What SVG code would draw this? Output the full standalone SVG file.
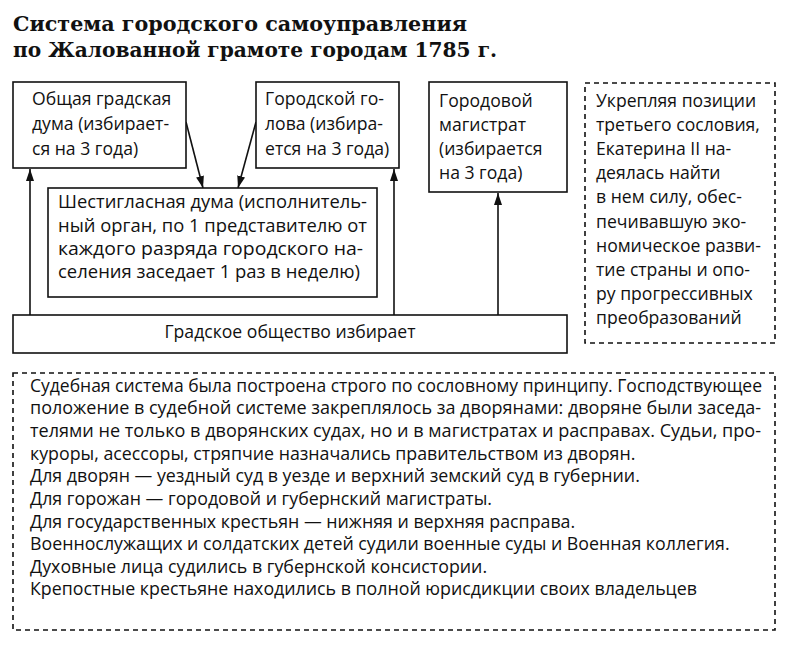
<svg xmlns="http://www.w3.org/2000/svg" width="807" height="648" viewBox="0 0 807 648">
<defs>
<style>
.box{fill:#fff;stroke:#111;stroke-width:1.6}
.dash{fill:#fff;stroke:#111;stroke-width:1.6;stroke-dasharray:5 4}
.t{font-family:"Open Sans","Noto Sans","DejaVu Sans",sans-serif;font-size:17.6px;fill:#111}
.b{font-size:17.8px}
.title{font-family:"DejaVu Serif","Liberation Serif",serif;font-weight:bold;font-size:21px;fill:#111}
.conn{stroke:#111;stroke-width:1.6;fill:none;marker-end:url(#ah)}
</style>
<marker id="ah" viewBox="0 0 12 8" refX="12" refY="4" markerWidth="12" markerHeight="8" markerUnits="userSpaceOnUse" orient="auto">
<path d="M0,0 L12,4 L0,8 Z" fill="#111"/>
</marker>
</defs>
<rect width="807" height="648" fill="#fff"/>
<g id="title">
<text class="title" x="13" y="31" textLength="454" lengthAdjust="spacingAndGlyphs">Система городского самоуправления</text>
<text class="title" x="13" y="57" textLength="484" lengthAdjust="spacingAndGlyphs">по Жалованной грамоте городам 1785 г.</text>
</g>
<g id="connectors">
<line class="conn" x1="30" y1="315" x2="30" y2="169"/>
<line class="conn" x1="394" y1="315" x2="394" y2="169"/>
<line class="conn" x1="498" y1="315" x2="498" y2="193"/>
<line class="conn" x1="186" y1="122" x2="203" y2="188"/>
<line class="conn" x1="256" y1="122" x2="238" y2="188"/>
</g>
<g id="duma">
<rect class="box" x="13" y="82" width="173" height="86"/>
<text class="t" x="32" y="105">Общая градская</text>
<text class="t" x="32" y="130">дума (избирает-</text>
<text class="t" x="32" y="155">ся на 3 года)</text>
</g>
<g id="golova">
<rect class="box" x="256" y="82" width="143" height="86"/>
<text class="t" x="265" y="105">Городской го-</text>
<text class="t" x="265" y="130">лова (избира-</text>
<text class="t" x="265" y="155">ется на 3 года)</text>
</g>
<g id="magistrat">
<rect class="box" x="429" y="82" width="138" height="110"/>
<text class="t" x="439" y="107">Городовой</text>
<text class="t" x="439" y="131">магистрат</text>
<text class="t" x="439" y="155">(избирается</text>
<text class="t" x="439" y="179">на 3 года)</text>
</g>
<g id="shestiglasnaya">
<rect class="box" x="48" y="188" width="329" height="109"/>
<text class="t" x="58" y="208" textLength="309" lengthAdjust="spacingAndGlyphs">Шестигласная дума (исполнитель-</text>
<text class="t" x="58" y="232" textLength="309" lengthAdjust="spacingAndGlyphs">ный орган, по 1 представителю от</text>
<text class="t" x="58" y="255" textLength="305" lengthAdjust="spacingAndGlyphs">каждого разряда городского на-</text>
<text class="t" x="58" y="278" textLength="302" lengthAdjust="spacingAndGlyphs">селения заседает 1 раз в неделю)</text>
</g>
<g id="obshchestvo">
<rect class="box" x="13" y="315" width="554" height="38"/>
<text class="t" x="290" y="338" text-anchor="middle">Градское общество избирает</text>
</g>
<g id="note">
<rect class="dash" x="585" y="83" width="190" height="260"/>
<text class="t" x="596" y="107">Укрепляя позиции</text>
<text class="t" x="596" y="131">третьего сословия,</text>
<text class="t" x="596" y="155">Екатерина II на-</text>
<text class="t" x="596" y="179">деялась найти</text>
<text class="t" x="596" y="203">в нем силу, обес-</text>
<text class="t" x="596" y="228">печивавшую эко-</text>
<text class="t" x="596" y="252">номическое разви-</text>
<text class="t" x="596" y="276">тие страны и опо-</text>
<text class="t" x="596" y="300">ру прогрессивных</text>
<text class="t" x="596" y="324">преобразований</text>
</g>
<g id="court">
<rect class="dash" x="13" y="373" width="762" height="257"/>
<text class="t b" x="30" y="392" textLength="732" lengthAdjust="spacingAndGlyphs">Судебная система была построена строго по сословному принципу. Господствующее</text>
<text class="t b" x="30" y="414" textLength="731" lengthAdjust="spacingAndGlyphs">положение в судебной системе закреплялось за дворянами: дворяне были заседа-</text>
<text class="t b" x="30" y="437" textLength="731" lengthAdjust="spacingAndGlyphs">телями не только в дворянских судах, но и в магистратах и расправах. Судьи, про-</text>
<text class="t b" x="30" y="460">куроры, асессоры, стряпчие назначались правительством из дворян.</text>
<text class="t b" x="30" y="482">Для дворян — уездный суд в уезде и верхний земский суд в губернии.</text>
<text class="t b" x="30" y="505">Для горожан — городовой и губернский магистраты.</text>
<text class="t b" x="30" y="528">Для государственных крестьян — нижняя и верхняя расправа.</text>
<text class="t b" x="30" y="550">Военнослужащих и солдатских детей судили военные суды и Военная коллегия.</text>
<text class="t b" x="30" y="573">Духовные лица судились в губернской консистории.</text>
<text class="t b" x="30" y="595">Крепостные крестьяне находились в полной юрисдикции своих владельцев</text>
</g>
</svg>
